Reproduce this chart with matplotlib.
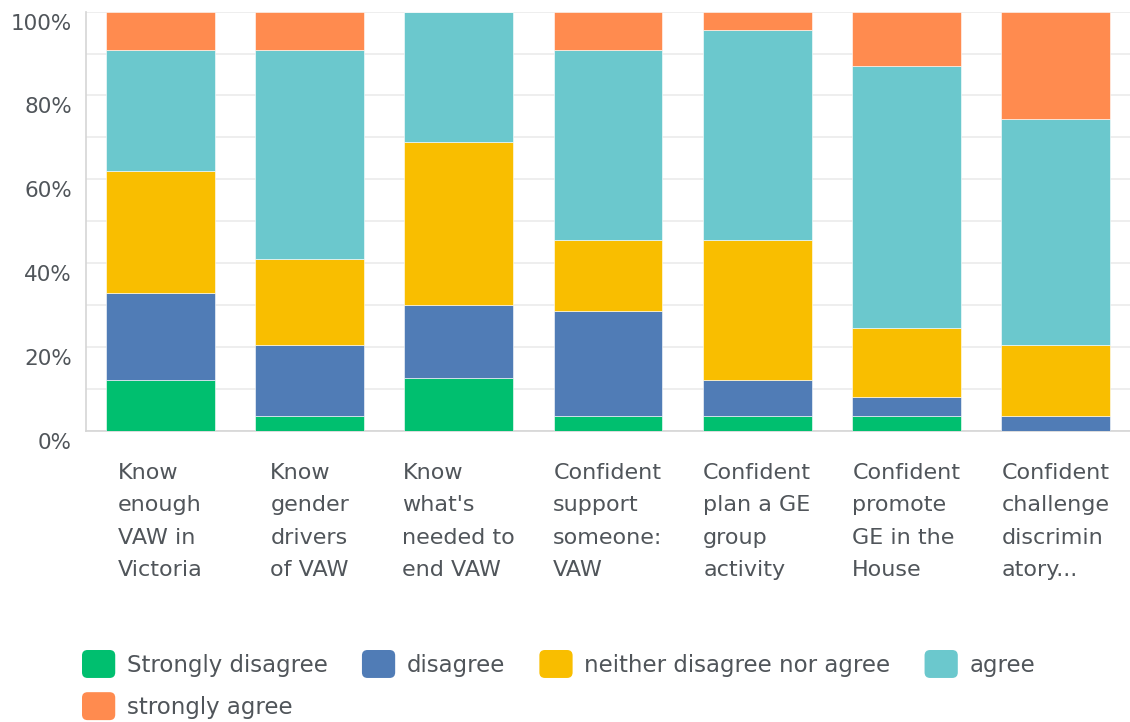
import matplotlib.pyplot as plt
from matplotlib.patches import Patch, FancyBboxPatch
from matplotlib.legend_handler import HandlerPatch
from matplotlib.transforms import ScaledTranslation
import numpy as np

plt.rcParams['font.family'] = ['DejaVu Sans']

categories = [
    ["Know", "enough", "VAW in", "Victoria"],
    ["Know", "gender", "drivers", "of VAW"],
    ["Know", "what's", "needed to", "end VAW"],
    ["Confident", "support", "someone:", "VAW"],
    ["Confident", "plan a GE", "group", "activity"],
    ["Confident", "promote", "GE in the", "House"],
    ["Confident", "challenge", "discrimin", "atory..."],
]

series_names = ["Strongly disagree", "disagree", "neither disagree nor agree",
                "agree", "strongly agree"]

# percentages per question
strongly_disagree = [12.1, 3.5, 12.6, 3.5, 3.5, 3.5, 0.0]
disagree = [20.8, 16.9, 17.4, 25.0, 8.6, 4.5, 3.5]
neither = [29.0, 20.6, 39.0, 17.0, 33.4, 16.5, 17.0]
agree = [29.0, 49.9, 31.0, 45.4, 50.0, 62.5, 54.0]
strongly_agree = [9.1, 9.1, 0.0, 9.1, 4.5, 13.0, 25.5]

colors = ["#00BF6F", "#507CB6", "#F9BE00", "#6BC8CD", "#FF8B4F"]
text_col = "#50555a"

fig = plt.figure(figsize=(11.3, 7.22), dpi=100)
ax = fig.add_axes([86 / 1130, 291 / 722, 1 - 86 / 1130, 419.4 / 722])

x = np.arange(len(categories))
bottom = np.zeros(len(categories))
for vals, col, name in zip([strongly_disagree, disagree, neither, agree, strongly_agree],
                           colors, series_names):
    ax.bar(x, vals, bottom=bottom, width=0.73, color=col, label=name, zorder=3,
           edgecolor="white", linewidth=0.4)
    bottom += np.array(vals)

ax.set_xlim(-0.5, len(categories) - 0.5)
ax.set_ylim(0, 100)

# grid every 10%, labels every 20%
ax.set_yticks(np.arange(0, 101, 10))
ax.set_yticklabels([])
ax.tick_params(axis="y", length=0)
ax.grid(axis="y", color="#ebebeb", linewidth=1.2, zorder=0)
ax.set_axisbelow(True)

off = ScaledTranslation(-14 / 100, -2 / 100, fig.dpi_scale_trans)
for v in range(0, 101, 20):
    ax.text(0, v, f"{v}%", transform=ax.get_yaxis_transform() + off,
            ha="right", va="top", fontsize=15.5, color=text_col)

ax.set_xticks(x)
ax.set_xticklabels(["\n".join(c) for c in categories], fontsize=16,
                   color=text_col)
for lab in ax.get_xticklabels():
    lab.set_multialignment("left")
    lab.set_linespacing(1.77)
ax.tick_params(axis="x", length=0, pad=23)

for s in ["top", "right"]:
    ax.spines[s].set_visible(False)
ax.spines["left"].set_color("#d5d5d5")
ax.spines["bottom"].set_color("#d5d5d5")
ax.spines["left"].set_linewidth(1.2)
ax.spines["bottom"].set_linewidth(1.2)


class RoundSquare(HandlerPatch):
    def create_artists(self, legend, orig_handle, xdescent, ydescent,
                       width, height, fontsize, trans):
        p = FancyBboxPatch((-xdescent, -ydescent), width, height,
                           boxstyle="round,pad=0,rounding_size=4",
                           facecolor=orig_handle.get_facecolor(),
                           edgecolor="none", transform=trans)
        return [p]


handles = [Patch(facecolor=c, label=n) for c, n in zip(colors, series_names)]
# legend fills columns first, so put "strongly agree" under the first entry
order = [0, 4, 1, 2, 3]
fig.legend([handles[i] for i in order], [series_names[i] for i in order],
           ncol=4, loc="upper left", bbox_to_anchor=(82 / 1130, 1 - 650 / 722),
           frameon=False, fontsize=16.5, labelcolor=text_col,
           handler_map={Patch: RoundSquare()},
           handlelength=1.45, handleheight=1.5, handletextpad=0.5,
           columnspacing=1.5, labelspacing=0.62, borderpad=0, borderaxespad=0)

fig.savefig("out.png", dpi=100, facecolor="white")
